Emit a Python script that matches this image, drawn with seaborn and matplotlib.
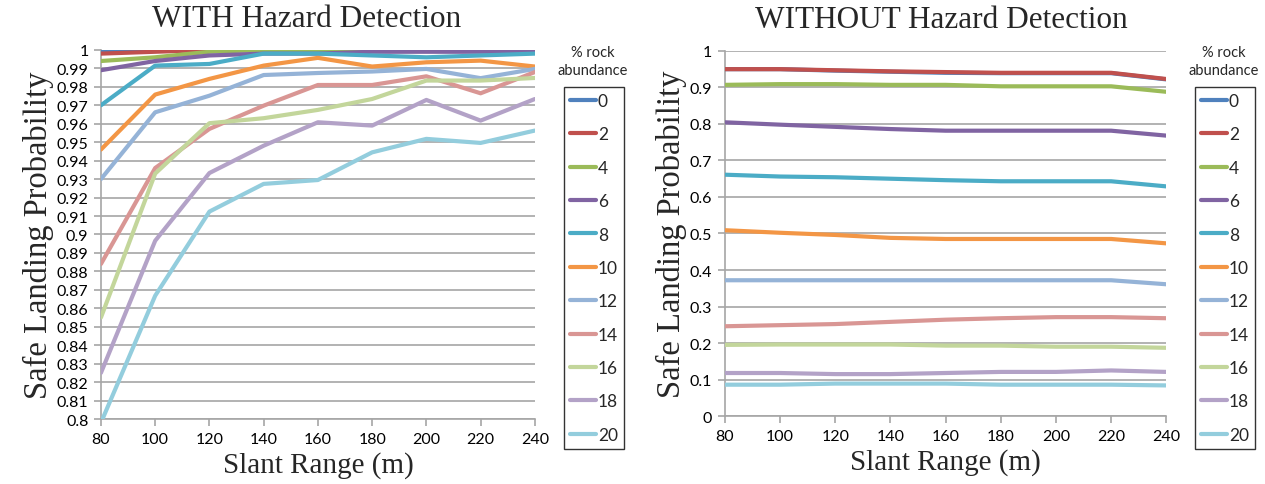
import matplotlib
matplotlib.use("Agg")
import matplotlib.pyplot as plt
import numpy as np
import pandas as pd
import seaborn as sns
from matplotlib.ticker import FuncFormatter

slant_range = [80, 100, 120, 140, 160, 180, 200, 220, 240]
rock_abundance = [0, 2, 4, 6, 8, 10, 12, 14, 16, 18, 20]

# safe landing probability, WITH hazard detection (one row per % rock)
with_hd = [
    [1.000, 1.000, 1.000, 1.000, 1.000, 1.000, 1.000, 1.000, 1.000],
    [0.998, 0.999, 1.000, 1.000, 1.000, 1.000, 1.000, 1.000, 1.000],
    [0.994, 0.996, 0.999, 1.000, 1.000, 1.000, 1.000, 1.000, 1.000],
    [0.989, 0.994, 0.997, 0.998, 0.998, 0.999, 0.999, 0.999, 0.999],
    [0.970, 0.9915, 0.9924, 0.998, 0.998, 0.997, 0.996, 0.997, 0.998],
    [0.946, 0.9758, 0.9843, 0.9915, 0.9957, 0.991, 0.9933, 0.9942, 0.991],
    [0.930, 0.9662, 0.9752, 0.9864, 0.9875, 0.9883, 0.9897, 0.9847, 0.9897],
    [0.884, 0.936, 0.9572, 0.9698, 0.981, 0.981, 0.9857, 0.9765, 0.988],
    [0.855, 0.933, 0.9603, 0.963, 0.9675, 0.9734, 0.9834, 0.9834, 0.9848],
    [0.825, 0.8966, 0.9333, 0.9481, 0.9608, 0.959, 0.9729, 0.9617, 0.9734],
    [0.798, 0.8668, 0.9124, 0.9274, 0.9295, 0.9445, 0.9518, 0.9496, 0.9563],
]

# safe landing probability, WITHOUT hazard detection
without_hd = [
    [0.950, 0.950, 0.946, 0.943, 0.940, 0.939, 0.939, 0.939, 0.922],
    [0.950, 0.950, 0.947, 0.944, 0.942, 0.940, 0.940, 0.940, 0.923],
    [0.907, 0.909, 0.909, 0.907, 0.907, 0.903, 0.903, 0.903, 0.888],
    [0.8045, 0.798, 0.792, 0.786, 0.7815, 0.7815, 0.7815, 0.7815, 0.768],
    [0.661, 0.656, 0.654, 0.650, 0.646, 0.643, 0.643, 0.643, 0.629],
    [0.509, 0.502, 0.496, 0.488, 0.485, 0.485, 0.485, 0.485, 0.473],
    [0.372, 0.372, 0.372, 0.372, 0.372, 0.372, 0.372, 0.372, 0.361],
    [0.246, 0.249, 0.252, 0.258, 0.264, 0.268, 0.271, 0.271, 0.268],
    [0.195, 0.196, 0.196, 0.196, 0.193, 0.193, 0.190, 0.190, 0.187],
    [0.118, 0.118, 0.115, 0.115, 0.118, 0.121, 0.121, 0.125, 0.121],
    [0.086, 0.086, 0.089, 0.089, 0.089, 0.086, 0.086, 0.086, 0.084],
]

colors = ["#4F81BD", "#C0504D", "#9BBB59", "#8064A2", "#4BACC6", "#F39645",
          "#95B3D7", "#D99694", "#C3D69B", "#B3A2C7", "#93CDDD"]


def to_long(values):
    rows = []
    for rock, series in zip(rock_abundance, values):
        for x, y in zip(slant_range, series):
            rows.append({"range": x, "prob": y, "rock": str(rock)})
    return pd.DataFrame(rows)


sns.set_style("white")
plt.rcParams["font.family"] = ["Lato", "DejaVu Sans"]

fig = plt.figure(figsize=(12.65, 4.85), dpi=100)
ax1 = fig.add_axes([0.0798, 0.134, 0.343, 0.761])
ax2 = fig.add_axes([0.573, 0.140, 0.349, 0.753])

serif = ["Liberation Serif", "DejaVu Serif"]
grid_c = "#A6A6A6"
hue_order = [str(r) for r in rock_abundance]

panels = [
    (ax1, with_hd, "WITH Hazard Detection", (0.8, 1.0), np.arange(0.8, 1.0001, 0.01), 0.475),
    (ax2, without_hd, "WITHOUT Hazard Detection", (0.0, 1.0), np.arange(0.0, 1.0001, 0.1), 0.49),
]

for ax, values, title, ylim, yticks, tx in panels:
    df = to_long(values)
    sns.lineplot(data=df, x="range", y="prob", hue="rock", hue_order=hue_order,
                 palette=colors, linewidth=3, ax=ax, legend=False, zorder=3)
    ax.set_xlim(80, 240)
    ax.set_ylim(*ylim)
    ax.set_xticks(slant_range)
    ax.set_yticks(yticks)
    ax.yaxis.set_major_formatter(FuncFormatter(lambda v, p: f"{round(v, 2):g}"))
    ax.grid(axis="y", color=grid_c, linewidth=1.2)
    ax.set_axisbelow(True)
    for s in ["top", "right"]:
        ax.spines[s].set_visible(False)
    for s in ["left", "bottom"]:
        ax.spines[s].set_color(grid_c)
        ax.spines[s].set_linewidth(1.2)
    ax.tick_params(axis="both", direction="out", length=5, width=1.2,
                   color=grid_c, labelsize=11.5, labelcolor="black", pad=4)
    ax.tick_params(left=True, bottom=True)
    ax.set_title(title, fontsize=22.5, family=serif, pad=17, x=tx)
    ax.set_xlabel("Slant Range (m)", fontsize=21, family=serif, labelpad=4)
    ax.set_ylabel("Safe Landing Probability", fontsize=23.5, family=serif, labelpad=2)

# legends (boxed entries with the title sitting above the box)
handles = [plt.Line2D([], [], color=c, linewidth=3) for c in colors]
for x0 in [564 / 1265, 1195 / 1265]:
    fig.legend(handles, hue_order, loc="upper left",
               bbox_to_anchor=(x0, 1 - 88 / 485), fontsize=12.5,
               frameon=True, fancybox=False, edgecolor="black",
               handlelength=1.5, handletextpad=0.1, labelspacing=1.0,
               borderpad=0.35, borderaxespad=0)
    fig.text(x0 + 29 / 1265, 1 - 62 / 485, "% rock\nabundance", ha="center",
             va="center", fontsize=10.5, linespacing=1.35)
for leg in fig.legends:
    leg.get_frame().set_linewidth(1.0)

fig.savefig("out.png", dpi=100)
